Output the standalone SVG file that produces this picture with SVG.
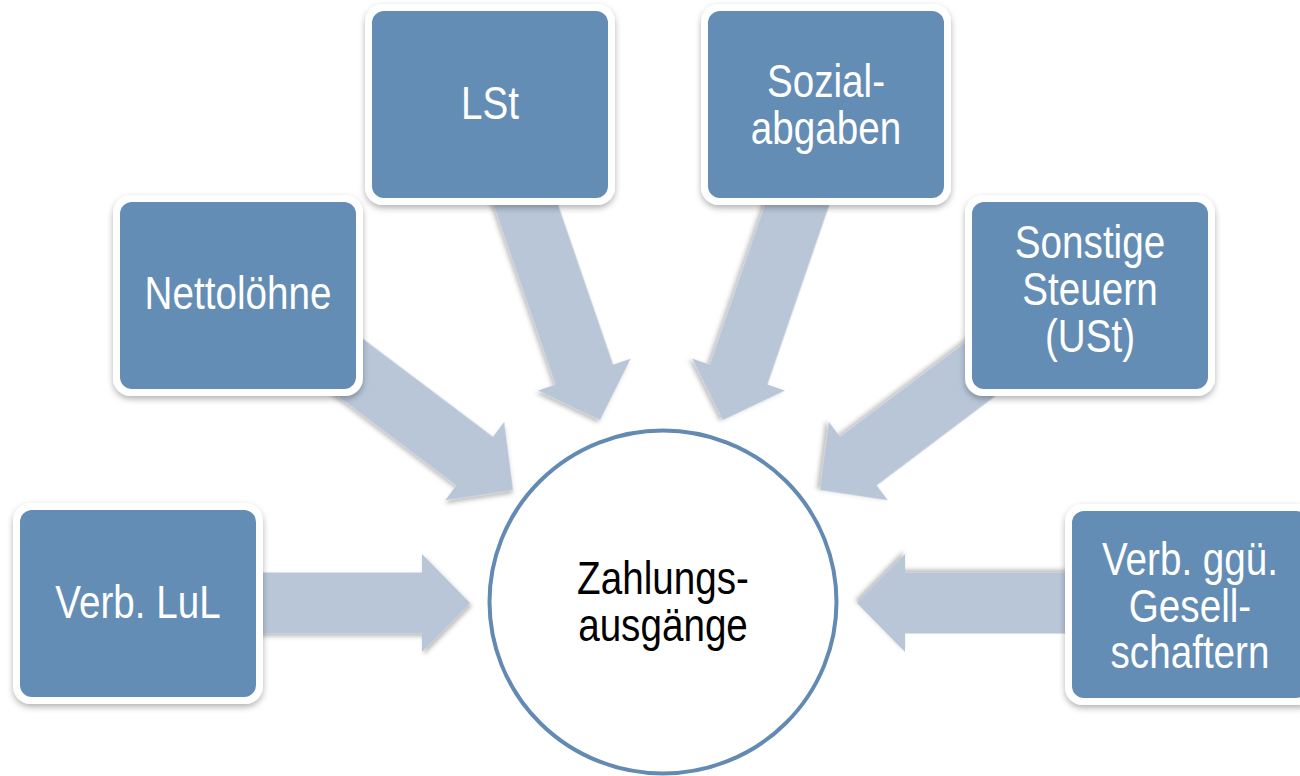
<svg xmlns="http://www.w3.org/2000/svg" width="1300" height="776" viewBox="0 0 1300 776">
  <defs>
    <filter id="sh" x="-20%" y="-20%" width="140%" height="140%">
      <feDropShadow dx="0" dy="3" stdDeviation="3" flood-color="#000" flood-opacity="0.3"/>
    </filter>
    <filter id="ash" x="-20%" y="-20%" width="140%" height="140%">
      <feDropShadow dx="2" dy="3" stdDeviation="2" flood-color="#000" flood-opacity="0.25"/>
    </filter>
    <path id="arr" d="M0,0 L-48,-49 L-48,-30.5 L-250,-30.5 L-250,30.5 L-48,30.5 L-48,49 Z"/>
  </defs>
  <style>
    .frame { fill: #ffffff; filter: url(#sh); }
    .box { fill: #648db5; }
    .arrow { fill: #b8c6d8; filter: url(#ash); }
    .lbl { font-family: "Liberation Sans", Arial, sans-serif; font-size: 46px; fill: #ffffff; text-anchor: middle; }
    .clbl { font-family: "Liberation Sans", Arial, sans-serif; font-size: 46px; fill: #000000; text-anchor: middle; }
  </style>
  <rect width="1300" height="776" fill="#ffffff"/>

  <g id="connectors">
    <use href="#arr" class="arrow" transform="translate(470,603) rotate(0)"/>
    <use href="#arr" class="arrow" transform="translate(513,490) rotate(37)"/>
    <use href="#arr" class="arrow" transform="translate(600,420) rotate(71)"/>
    <use href="#arr" class="arrow" transform="translate(723,420) rotate(109)"/>
    <use href="#arr" class="arrow" transform="translate(820,490) rotate(143)"/>
    <use href="#arr" class="arrow" transform="translate(857,603) rotate(180)"/>
  </g>

  <g id="center">
    <ellipse cx="663" cy="602" rx="173.5" ry="171.5" fill="#ffffff" stroke="#628ab3" stroke-width="4"/>
    <g transform="translate(663,0) scale(0.84,1)">
      <text class="clbl" x="0" y="594">Zahlungs-</text>
      <text class="clbl" x="0" y="641">ausgänge</text>
    </g>
  </g>

  <g id="verb-lul">
    <rect class="frame" x="13" y="503" width="250" height="201" rx="18"/>
    <rect class="box" x="20" y="510" width="236" height="187" rx="12"/>
    <g transform="translate(138,0) scale(0.84,1)">
      <text class="lbl" x="0" y="618">Verb. LuL</text>
    </g>
  </g>

  <g id="nettoloehne">
    <rect class="frame" x="113" y="195" width="250" height="201" rx="18"/>
    <rect class="box" x="120" y="202" width="236" height="187" rx="12"/>
    <g transform="translate(238,0) scale(0.84,1)">
      <text class="lbl" x="0" y="309">Nettolöhne</text>
    </g>
  </g>

  <g id="lst">
    <rect class="frame" x="365" y="4" width="250" height="201" rx="18"/>
    <rect class="box" x="372" y="11" width="236" height="187" rx="12"/>
    <g transform="translate(490,0) scale(0.84,1)">
      <text class="lbl" x="0" y="119">LSt</text>
    </g>
  </g>

  <g id="sozialabgaben">
    <rect class="frame" x="701" y="4" width="250" height="201" rx="18"/>
    <rect class="box" x="708" y="11" width="236" height="187" rx="12"/>
    <g transform="translate(826,0) scale(0.84,1)">
      <text class="lbl" x="0" y="97">Sozial-</text>
      <text class="lbl" x="0" y="144">abgaben</text>
    </g>
  </g>

  <g id="sonstige-steuern">
    <rect class="frame" x="965" y="195" width="250" height="201" rx="18"/>
    <rect class="box" x="972" y="202" width="236" height="187" rx="12"/>
    <g transform="translate(1090,0) scale(0.84,1)">
      <text class="lbl" x="0" y="258">Sonstige</text>
      <text class="lbl" x="0" y="305">Steuern</text>
      <text class="lbl" x="0" y="352">(USt)</text>
    </g>
  </g>

  <g id="verb-gesellschafter">
    <rect class="frame" x="1065" y="504" width="250" height="201" rx="18"/>
    <rect class="box" x="1072" y="511" width="236" height="187" rx="12"/>
    <g transform="translate(1190,0) scale(0.84,1)">
      <text class="lbl" x="0" y="575">Verb. ggü.</text>
      <text class="lbl" x="0" y="622">Gesell-</text>
      <text class="lbl" x="0" y="668">schaftern</text>
    </g>
  </g>
</svg>
